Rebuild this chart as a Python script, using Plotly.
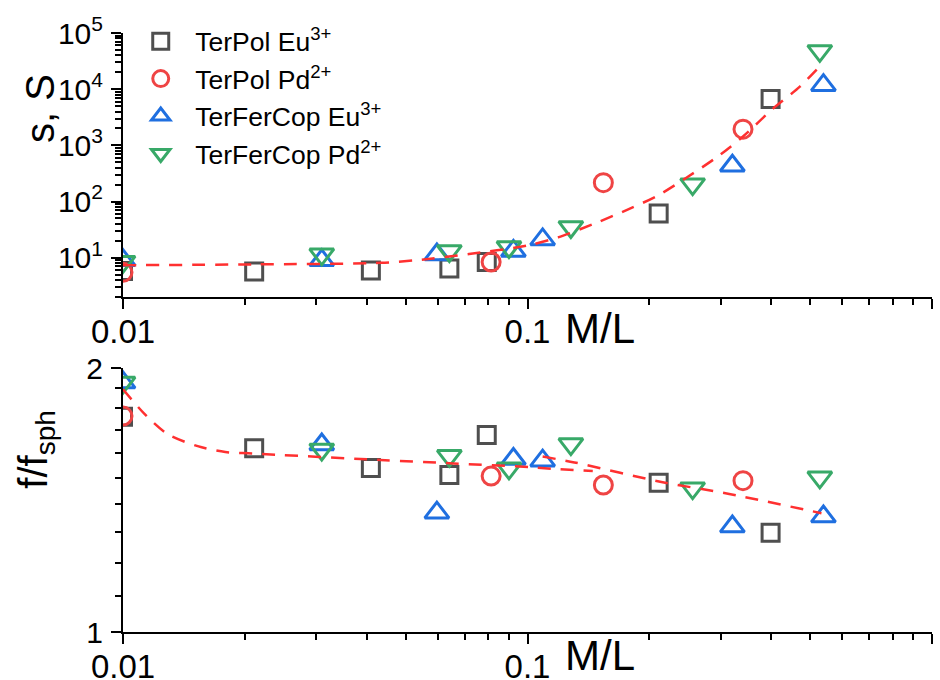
import plotly.graph_objects as go

# ---- data -------------------------------------------------------------
# TerPol Eu3+ (squares)
x_terpol_eu = [0.01, 0.0211, 0.041, 0.0641, 0.0793, 0.211, 0.399]
s_terpol_eu = [5.8, 5.7, 5.9, 6.4, 8.4, 61.5, 6680]
f_terpol_eu = [1.76, 1.62, 1.538, 1.51, 1.677, 1.48, 1.298]

# TerPol Pd2+ (circles)
x_terpol_pd = [0.01, 0.0813, 0.154, 0.341]
s_terpol_pd = [5.5, 8.4, 217, 1945]
f_terpol_pd = [1.763, 1.506, 1.471, 1.488]

# TerFerCop Eu3+ (up triangles)
x_tfc_eu = [0.01, 0.031, 0.0597, 0.0923, 0.109, 0.321, 0.539]
s_tfc_eu = [9.0, 9.0, 11.4, 13.2, 21.2, 434, 11800]
f_tfc_eu = [1.925, 1.636, 1.368, 1.575, 1.568, 1.319, 1.354]

# TerFerCop Pd2+ (down triangles)
x_tfc_pd = [0.01, 0.031, 0.0641, 0.09, 0.128, 0.256, 0.528]
s_tfc_pd = [8.5, 11.5, 13.2, 15.5, 35.3, 204, 48000]
f_tfc_pd = [1.925, 1.615, 1.588, 1.537, 1.638, 1.459, 1.501]

# fitted curves
fit_s_x = [0.01, 0.0212, 0.0433, 0.0529, 0.0717, 0.1, 0.119, 0.1457,
           0.1785, 0.21, 0.247, 0.296, 0.3415, 0.4016, 0.472, 0.533]
fit_s_y = [7.35, 7.6, 8.1, 9.0, 11.6, 16.5, 23, 40, 74, 128, 265, 640,
           1450, 4300, 11200, 27400]

fit_f_low_x = [0.01, 0.0113, 0.0129, 0.0153, 0.0179, 0.0209, 0.0433,
               0.0654, 0.1031, 0.12, 0.145]
fit_f_low_y = [1.891, 1.773, 1.681, 1.629, 1.604, 1.598, 1.571, 1.557,
               1.541, 1.533, 1.526]
fit_f_high_x = [0.109, 0.1306, 0.2143, 0.3153, 0.533]
fit_f_high_y = [1.585, 1.561, 1.483, 1.437, 1.366]

# axis ticks
x_major = [0.01, 0.1, 1]
x_major_text = ["0.01", "0.1", "1"]
x_minor = [m * d for d in (0.01, 0.1) for m in range(2, 10)]
s_major = [10, 100, 1000, 10000, 100000]
s_major_text = ["10<sup>1</sup>", "10<sup>2</sup>", "10<sup>3</sup>",
                "10<sup>4</sup>", "10<sup>5</sup>"]
s_minor = [m * d for d in (1, 10, 100, 1000, 10000) for m in range(2, 10)]
f_major = [1, 2]
f_major_text = ["1", "2"]
f_minor = [1.1, 1.2, 1.3, 1.4, 1.5, 1.6, 1.7, 1.8, 1.9]

# ---- styling ----------------------------------------------------------
FONT = "Liberation Sans, Arial, Helvetica, sans-serif"
series = [
    ("TerPol Eu<sup>3+</sup>", x_terpol_eu, s_terpol_eu, f_terpol_eu, "square-open", "#4f4f4f", 17),
    ("TerPol Pd<sup>2+</sup>", x_terpol_pd, s_terpol_pd, f_terpol_pd, "circle-open", "#ef4444", 18),
    ("TerFerCop Eu<sup>3+</sup>", x_tfc_eu, s_tfc_eu, f_tfc_eu, "triangle-up-open", "#1f6fe0", 21),
    ("TerFerCop Pd<sup>2+</sup>", x_tfc_pd, s_tfc_pd, f_tfc_pd, "triangle-down-open", "#38a968", 21),
]
FIT_COLOR = "#ff3030"
FIT_DASH = "13px,10px"

fig = go.Figure()

for i, (name, xs, ss, ff, sym, col, size) in enumerate(series):
    marker = dict(symbol=sym, size=size, color=col, line=dict(width=3, color=col))
    fig.add_trace(go.Scatter(x=xs, y=ss, mode="markers", name=name, marker=marker,
                             xaxis="x2", yaxis="y2", legendgroup=f"g{i}"))
    fig.add_trace(go.Scatter(x=xs, y=ff, mode="markers", name=name, marker=marker,
                             xaxis="x", yaxis="y", showlegend=False, legendgroup=f"g{i}"))

fit_line = dict(color=FIT_COLOR, width=2.5, dash=FIT_DASH, shape="spline", smoothing=0.8)
fig.add_trace(go.Scatter(x=fit_s_x, y=fit_s_y, mode="lines", line=fit_line,
                         xaxis="x2", yaxis="y2", showlegend=False, hoverinfo="skip"))
fig.add_trace(go.Scatter(x=fit_f_low_x, y=fit_f_low_y, mode="lines", line=fit_line,
                         xaxis="x", yaxis="y", showlegend=False, hoverinfo="skip"))
fig.add_trace(go.Scatter(x=fit_f_high_x, y=fit_f_high_y, mode="lines", line=fit_line,
                         xaxis="x", yaxis="y", showlegend=False, hoverinfo="skip"))

common_axis = dict(
    type="log", showline=True, linecolor="black", linewidth=2, mirror=False,
    showgrid=False, zeroline=False, ticks="outside", ticklen=10, tickwidth=2,
    tickcolor="black", tickmode="array", automargin=False,
)
minor_style = dict(ticks="outside", ticklen=6, tickwidth=1.5, tickcolor="black",
                   showgrid=False, tickmode="array")

xaxis_cfg = dict(common_axis, range=[-2, 0], tickvals=x_major, ticktext=x_major_text,
                 tickfont=dict(family=FONT, size=33, color="black"),
                 minor=dict(minor_style, tickvals=x_minor), domain=[0, 1],
                 ticklabelstandoff=-6)

# plot area spans y = 33 .. 632 px
fig.update_layout(
    width=940, height=680,
    margin=dict(l=123, r=8, t=33, b=48, autoexpand=False),
    paper_bgcolor="white", plot_bgcolor="white",
    font=dict(family=FONT, color="black"),
    xaxis=dict(xaxis_cfg, anchor="y"),
    xaxis2=dict(xaxis_cfg, anchor="y2"),
    yaxis=dict(common_axis, range=[0, 0.30103], tickvals=f_major, ticktext=f_major_text,
               tickfont=dict(family=FONT, size=30, color="black"),
               minor=dict(minor_style, tickvals=f_minor),
               domain=[0, 0.4407], anchor="x", ticklabelstandoff=2),
    yaxis2=dict(common_axis, range=[0.30103, 5], tickvals=s_major, ticktext=s_major_text,
                tickfont=dict(family=FONT, size=30, color="black"),
                minor=dict(minor_style, tickvals=s_minor),
                domain=[0.5593, 1], anchor="x2", ticklabelstandoff=2),
    legend=dict(x=0.004, y=1.026, xanchor="left", yanchor="top",
                bgcolor="rgba(0,0,0,0)", borderwidth=0,
                font=dict(family=FONT, size=26.5, color="black"),
                tracegroupgap=0, itemwidth=59),
    showlegend=True,
)

# axis titles and unit labels
annotations = [
    dict(text="s, S", x=-0.1026, y=0.8748, textangle=-90, font_size=40),
    dict(text="f/f<sub>sph</sub>", x=-0.108, y=0.3055, textangle=-90, font_size=40),
    dict(text="M/L", x=0.544, y=0.5075, xanchor="left", font_size=42),
    dict(text="M/L", x=0.544, y=-0.0384, xanchor="left", font_size=42),
]
for a in annotations:
    fig.add_annotation(xref="paper", yref="paper", showarrow=False,
                       xanchor=a.pop("xanchor", "center"), yanchor="middle",
                       font=dict(family=FONT, color="black", size=a.pop("font_size")),
                       **a)

fig.write_html("out.html")
